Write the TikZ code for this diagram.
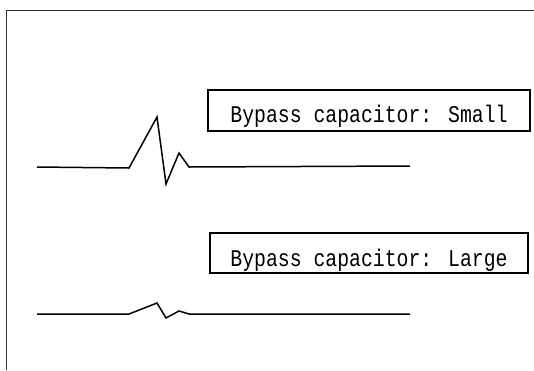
\documentclass[tikz,border=0pt]{standalone}
\usepackage{fontspec}
\newfontfamily\lblfont[FakeStretch=0.825]{Liberation Mono}
\begin{document}
\begin{tikzpicture}[x=1pt,y=-1pt]
  \tikzset{lbl/.style={draw,rectangle,line width=1.3pt,inner sep=0pt,font=\lblfont\fontsize{24}{28}\selectfont}}
  \tikzset{wave/.style={line width=1.5pt,line join=miter}}
  \useasboundingbox (0,0) rectangle (534,370);
  \draw[line width=0.8pt,black!80] (6,370) -- (6,10) -- (534,10);
  \node[lbl,minimum width=322pt,text height=32pt,text depth=9pt] (small) at (369,110.5) {Bypass capacitor: Small};
  \node[lbl,minimum width=318pt,text height=33pt,text depth=7pt] (large) at (369,253) {Bypass capacitor: Large};
  % small capacitor
  \draw[wave] (37,167) -- (129,168) -- (157,117) -- (166,184) -- (179,153) -- (189,167) -- (410,166);
  % large capacitor
  \draw[wave] (37,314) -- (129,314) -- (157,303) -- (166,318) -- (179,311) -- (189,314) -- (410,314);
\end{tikzpicture}
\end{document}
